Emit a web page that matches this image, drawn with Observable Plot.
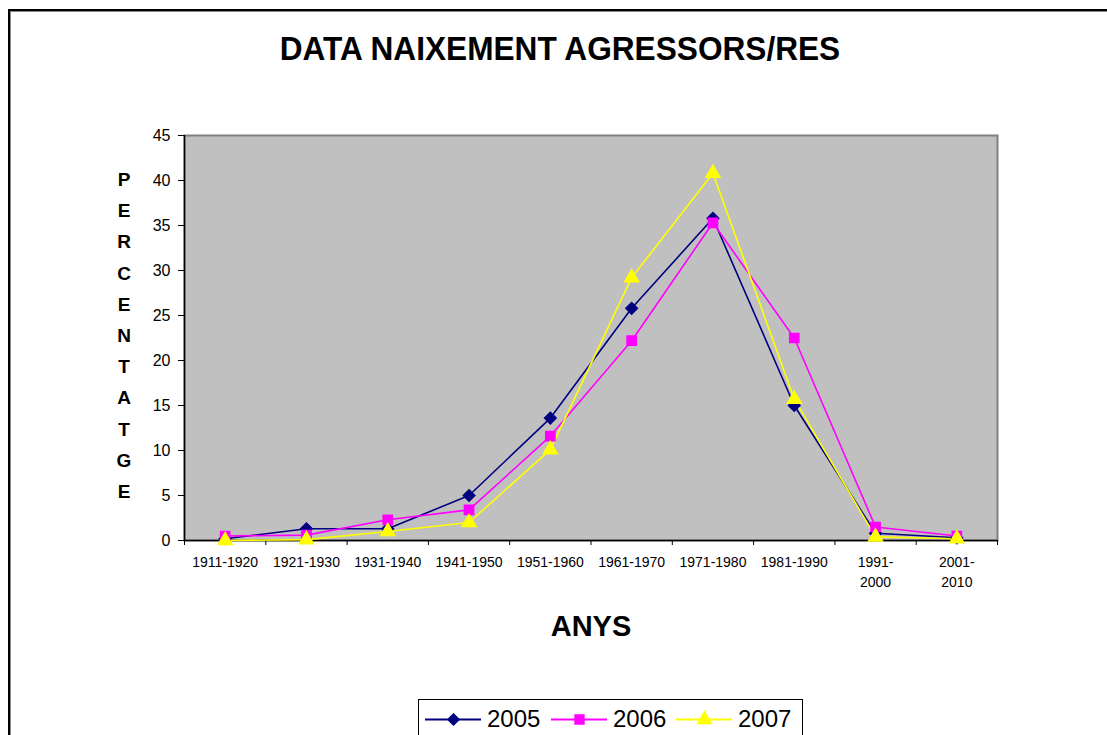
<!DOCTYPE html>
<html>
<head>
<meta charset="utf-8">
<script src="https://cdn.jsdelivr.net/npm/d3@7"></script>
<script src="https://cdn.jsdelivr.net/npm/@observablehq/plot@0.6"></script>
<style>
  html, body { margin: 0; padding: 0; background: #fff; }
  #wrap { position: relative; width: 1107px; height: 735px; overflow: hidden; font-family: "Liberation Sans", Arial, sans-serif; }
  #frame { position: absolute; left: 8px; top: 9px; width: 1300px; height: 900px; border-top: 2px solid #000; border-left: 2px solid #000; box-shadow: inset 1px 1px 0 #888; }
  #chart { position: absolute; left: 0; top: 0; }
  #title { position: absolute; left: 560px; top: 31px; font-size: 34px; font-weight: bold; white-space: nowrap; line-height: 1; transform: translateX(-50%) scaleX(0.93); }
  #ylab { position: absolute; left: 112px; top: 164px; width: 24px; text-align: center; font-size: 19px; font-weight: bold; line-height: 31.2px; }
  #xlab { position: absolute; left: 591px; top: 612px; font-size: 29px; font-weight: bold; line-height: 1; transform: translateX(-50%); white-space: nowrap; }
  #legend { position: absolute; left: 418px; top: 699px; width: 383px; height: 60px; border: 1.5px solid #000; background: #fff; }
  #legend .item { position: absolute; top: 4px; display: flex; align-items: center; font-size: 24px; }
  #legend svg { display: block; }
</style>
</head>
<body>
<div id="wrap">
  <div id="frame"></div>
  <div id="chart"></div>
  <div id="title"></div>
  <div id="ylab"></div>
  <div id="xlab"></div>
  <div id="legend"></div>
</div>
<script>
const titleText = "DATA NAIXEMENT AGRESSORS/RES";
const yTitle = "PERCENTATGE";
const xTitle = "ANYS";
const categories = ["1911-1920","1921-1930","1931-1940","1941-1950","1951-1960","1961-1970","1971-1980","1981-1990","1991-2000","2001-2010"];
const tickLabels = ["1911-1920","1921-1930","1931-1940","1941-1950","1951-1960","1961-1970","1971-1980","1981-1990","1991-\n2000","2001-\n2010"];
const seriesNames = ["2005","2006","2007"];
const s2005 = [0.2, 1.3, 1.3, 5.0, 13.6, 25.8, 35.8, 15.0, 0.8, 0.3];
const s2006 = [0.5, 0.6, 2.3, 3.4, 11.6, 22.2, 35.3, 22.5, 1.5, 0.5];
const s2007 = [0.0, 0.1, 1.0, 2.0, 10.1, 29.2, 40.8, 15.7, 0.4, 0.2];
const colors = ["#000080", "#FF00FF", "#FFFF00"];
const symbols = ["diamond2", "square", "triangle"];
const yTicks = [0, 5, 10, 15, 20, 25, 30, 35, 40, 45];

const data = [];
[s2005, s2006, s2007].forEach((vals, k) => vals.forEach((v, i) => data.push({series: seriesNames[k], i: i + 0.5, v})));

const chart = Plot.plot({
  width: 1107, height: 735,
  marginLeft: 184, marginRight: 110, marginTop: 135, marginBottom: 195,
  style: {background: "transparent", fontFamily: "'Liberation Sans', Arial, sans-serif", color: "#000"},
  x: {type: "linear", domain: [0, categories.length]},
  y: {domain: [0, 45]},
  color: {domain: seriesNames, range: colors},
  symbol: {domain: seriesNames, range: symbols},
  marks: [
    Plot.frame({fill: "#c0c0c0", stroke: "#808080", strokeWidth: 2}),
    Plot.axisY(yTicks, {tickSize: 6, tickPadding: 8, fontSize: 16, label: null}),
    Plot.axisX(d3.range(categories.length + 1), {tickSize: 5, tickFormat: () => "", label: null}),
    Plot.axisX(d3.range(categories.length).map(i => i + 0.5), {tickSize: 0, tickPadding: 13, fontSize: 14, lineHeight: 1.4, letterSpacing: "-0.3px", tickFormat: d => tickLabels[Math.floor(d)], label: null}),
    Plot.ruleX([0], {stroke: "#000", strokeWidth: 1.5}),
    Plot.ruleY([0], {stroke: "#000", strokeWidth: 1.5}),
    Plot.line(data, {x: "i", y: "v", z: "series", stroke: "series", strokeWidth: 1.6}),
    Plot.dot(data, {x: "i", y: "v", fill: "series", stroke: "series", symbol: "series", r: 5.2})
  ]
});
document.getElementById("chart").appendChild(chart);

document.getElementById("title").textContent = titleText;
document.getElementById("xlab").textContent = xTitle;
document.getElementById("ylab").innerHTML = yTitle.split("").join("<br>");

const legend = document.getElementById("legend");
const itemLefts = [6, 132, 257];
seriesNames.forEach((name, k) => {
  const item = document.createElement("div");
  item.className = "item";
  item.style.left = itemLefts[k] + "px";
  const sw = Plot.plot({
    width: 56, height: 30, margin: 0,
    style: {background: "transparent"},
    x: {domain: [0, 1], axis: null},
    y: {domain: [0, 1], axis: null},
    marks: [
      Plot.ruleY([0.5], {x1: 0, x2: 1, stroke: colors[k], strokeWidth: 2}),
      Plot.dot([0.5], {x: 0.5, y: 0.5, symbol: symbols[k], fill: colors[k], stroke: colors[k], r: 5})
    ]
  });
  item.appendChild(sw);
  const t = document.createElement("span");
  t.textContent = name;
  t.style.marginLeft = "6px";
  item.appendChild(t);
  legend.appendChild(item);
});
</script>
</body>
</html>
